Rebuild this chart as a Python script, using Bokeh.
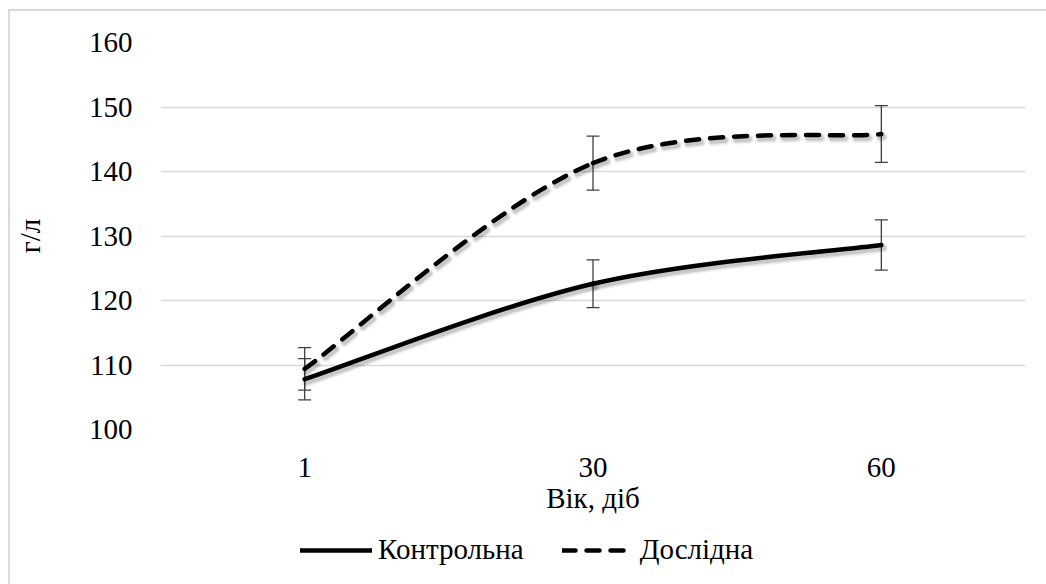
from bokeh.plotting import figure
from bokeh.layouts import column
from bokeh.models import (ColumnDataSource, FixedTicker, Whisker, TeeHead,
                          Legend, LegendItem)
from bokeh.embed import file_html
from bokeh.resources import INLINE

# Haemoglobin level by age, g/l
ages = ["1", "30", "60"]
control = [107.8, 122.6, 128.6]
control_err = [3.2, 3.7, 3.9]
experimental = [109.4, 141.3, 145.8]
experimental_err = [3.3, 4.2, 4.4]
series_names = ["Контрольна", "Дослідна"]

FONT = "'Liberation Serif', 'Times New Roman', serif"
FSIZE = "29px"
GRID = "#d9d9d9"
FRAME_W, FRAME_H = 865, 387
Y0, Y1 = 100, 160

xs = [i + 0.5 for i in range(len(ages))]

# soft drop shadow under the curves, offset given in screen pixels
SH_DX = 2 * len(ages) / FRAME_W
SH_DY = -3 * (Y1 - Y0) / FRAME_H


def smooth_segments(x, y, dx=0.0, dy=0.0):
    """Catmull-Rom style Bezier segments through the points."""
    n = len(x)
    seg = dict(x0=[], y0=[], x1=[], y1=[], cx0=[], cy0=[], cx1=[], cy1=[])
    for i in range(n - 1):
        ip = max(i - 1, 0)
        inn = min(i + 2, n - 1)
        seg["x0"].append(x[i] + dx); seg["y0"].append(y[i] + dy)
        seg["x1"].append(x[i + 1] + dx); seg["y1"].append(y[i + 1] + dy)
        seg["cx0"].append(x[i] + (x[i + 1] - x[ip]) / 6 + dx)
        seg["cy0"].append(y[i] + (y[i + 1] - y[ip]) / 6 + dy)
        seg["cx1"].append(x[i + 1] - (x[inn] - x[i]) / 6 + dx)
        seg["cy1"].append(y[i + 1] - (y[inn] - y[i]) / 6 + dy)
    return ColumnDataSource(seg)


p = figure(width=1036, height=518,
           x_range=(0, len(ages)), y_range=(Y0, Y1),
           output_backend="svg", toolbar_location=None,
           min_border_left=150, min_border_right=21,
           min_border_top=31, min_border_bottom=100)
p.outline_line_color = None
p.background_fill_color = "white"
p.border_fill_color = "white"

# axes
p.xaxis.ticker = FixedTicker(ticks=xs)
p.xaxis.major_label_overrides = {x: a for x, a in zip(xs, ages)}
p.yaxis.ticker = FixedTicker(ticks=list(range(Y0, Y1 + 1, 10)))
for ax in (p.xaxis[0], p.yaxis[0]):
    ax.axis_line_color = None
    ax.major_tick_line_color = None
    ax.minor_tick_line_color = None
    ax.major_tick_in = 0
    ax.major_tick_out = 0
    ax.major_label_text_font = FONT
    ax.major_label_text_font_size = FSIZE
    ax.major_label_text_color = "black"
    ax.axis_label_text_font = FONT
    ax.axis_label_text_font_size = FSIZE
    ax.axis_label_text_font_style = "normal"
    ax.axis_label_text_color = "black"
p.xaxis.axis_label = "Вік, діб"
p.yaxis.axis_label = "г/л"
p.xaxis.major_label_standoff = 28
p.xaxis.axis_label_standoff = 2
p.yaxis.major_label_standoff = 28
p.yaxis.axis_label_standoff = 40

p.xgrid.grid_line_color = None
p.ygrid.grid_line_color = GRID
p.ygrid.grid_line_width = 1.5

# error bars
for vals, errs in ((control, control_err), (experimental, experimental_err)):
    src = ColumnDataSource(dict(
        x=xs,
        lower=[v - e for v, e in zip(vals, errs)],
        upper=[v + e for v, e in zip(vals, errs)]))
    w = Whisker(base="x", lower="lower", upper="upper", source=src,
                line_color="#404040", line_width=1.3, level="underlay",
                upper_head=TeeHead(size=13, line_color="#404040", line_width=1.3),
                lower_head=TeeHead(size=13, line_color="#404040", line_width=1.3))
    p.add_layout(w)

BEZ = dict(x0="x0", y0="y0", x1="x1", y1="y1", cx0="cx0", cy0="cy0",
           cx1="cx1", cy1="cy1")
DASH = "13 11"
STYLES = [dict(line_dash="solid"), dict(line_dash=DASH)]

# shadows
for vals, st in zip((control, experimental), STYLES):
    sh = smooth_segments(xs, vals, SH_DX, SH_DY)
    for width, alpha in ((10, 0.05), (7, 0.08), (5, 0.10)):
        p.bezier(source=sh, line_color="black", line_alpha=alpha,
                 line_width=width, line_cap="round", **st, **BEZ)

# smoothed series
for vals, st in zip((control, experimental), STYLES):
    p.bezier(source=smooth_segments(xs, vals), line_color="black",
             line_width=4.5, line_cap="round", **st, **BEZ)

# legend strip under the chart
leg = figure(width=1036, height=55, x_range=(0, len(ages)), y_range=(0, 1),
             output_backend="svg", toolbar_location=None,
             x_axis_type=None, y_axis_type=None,
             min_border_left=0, min_border_right=0,
             min_border_top=0, min_border_bottom=0)
leg.outline_line_color = None
leg.xgrid.visible = False
leg.ygrid.visible = False
items = []
for name, vals, st in zip(series_names, (control, experimental), STYLES):
    # same curves; they fall outside this strip's range, only their keys show
    r = leg.bezier(source=smooth_segments(xs, vals), line_color="black",
                   line_width=4.5, line_cap="round", **st, **BEZ)
    items.append(LegendItem(label=name, renderers=[r]))

legend = Legend(items=items, orientation="horizontal", location=(140, 18),
                glyph_width=72, glyph_height=30, label_standoff=6, spacing=38,
                padding=0, margin=0, border_line_color=None,
                background_fill_alpha=0, label_text_font=FONT,
                label_text_font_size=FSIZE, label_text_color="black")
leg.add_layout(legend, "center")

page = column(p, leg, spacing=0)
page.styles = {"margin-left": "8px", "margin-top": "9px",
               "border-left": f"2px solid {GRID}",
               "border-top": f"2px solid {GRID}"}

open("out.html", "w").write(file_html(page, INLINE))
